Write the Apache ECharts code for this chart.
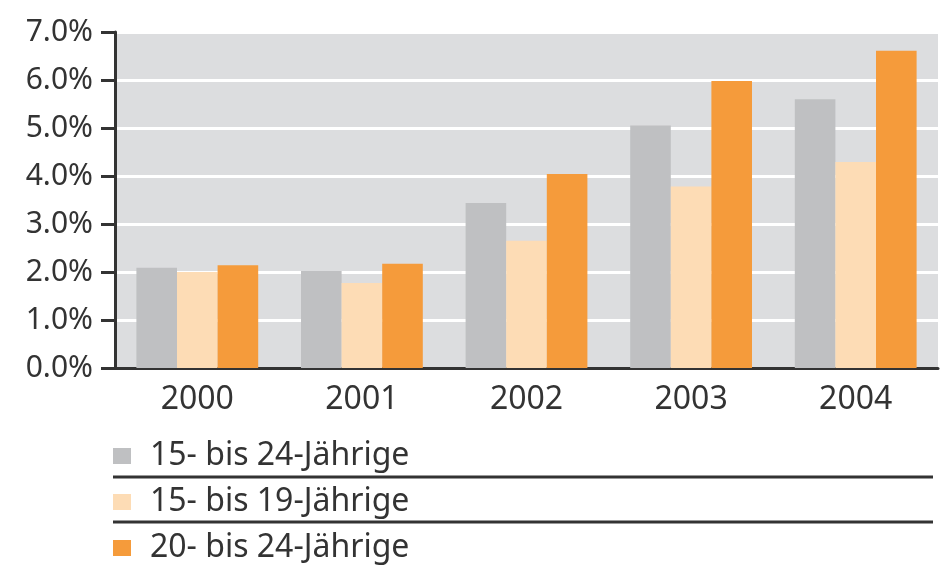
<!DOCTYPE html>
<html>
<head>
<meta charset="utf-8">
<script src="https://cdn.jsdelivr.net/npm/echarts@6/dist/echarts.min.js"></script>
<style>
  html, body { margin: 0; padding: 0; background: #fff; }
  #chart { width: 943px; height: 567px; }
</style>
</head>
<body>
<div id="chart"></div>
<script>
// Jahre und Anteile (in %)
const years = ["2000", "2001", "2002", "2003", "2004"]
const seriesNames = ["15- bis 24-Jährige", "15- bis 19-Jährige", "20- bis 24-Jährige"]
const age15to24 = [2.09, 2.02, 3.44, 5.05, 5.60]
const age15to19 = [2.00, 1.77, 2.65, 3.78, 4.29]
const age20to24 = [2.14, 2.17, 4.04, 5.98, 6.61]
const colors = ["#bfc0c2", "#fddcb5", "#f59b3b"]

const chart = echarts.init(document.getElementById("chart"))
const font = "'Noto Sans', sans-serif"
const dark = "#333"

const values = [age15to24, age15to19, age20to24]

chart.setOption({
  animation: false,
  grid: {
    left: 115, right: 5, top: 32, bottom: 199,
    show: true, backgroundColor: "#dcdddf", borderWidth: 0
  },
  legend: {
    orient: "vertical",
    left: 113, top: 438,
    padding: 0,
    icon: "rect",
    itemWidth: 18, itemHeight: 16,
    itemGap: 10,
    textStyle: { fontFamily: font, fontSize: 32, color: dark, lineHeight: 36, padding: [0, 0, 0, 14] },
    data: seriesNames,
    selectedMode: false
  },
  xAxis: {
    type: "category",
    data: years,
    axisLine: { lineStyle: { color: dark, width: 3 } },
    axisTick: { length: 10, lineStyle: { color: dark, width: 3 } },
    axisLabel: { fontFamily: font, fontSize: 32, color: dark, margin: 16 }
  },
  yAxis: {
    type: "value",
    min: 0, max: 7, interval: 1,
    axisLine: { show: true, lineStyle: { color: dark, width: 3 } },
    axisTick: { show: true, length: 14, lineStyle: { color: dark, width: 3 } },
    axisLabel: {
      fontFamily: font, fontSize: 30, color: dark, margin: 22,
      formatter: v => v.toFixed(1) + "%"
    },
    splitLine: { lineStyle: { color: "#fff", width: 3 } }
  },
  // Trennlinien zwischen den Legendeneinträgen
  graphic: [
    { type: "line", shape: { x1: 113, y1: 477, x2: 933, y2: 477 }, style: { stroke: dark, lineWidth: 3 } },
    { type: "line", shape: { x1: 113, y1: 522, x2: 933, y2: 522 }, style: { stroke: dark, lineWidth: 3 } }
  ],
  series: seriesNames.map((name, i) => ({
    name,
    type: "bar",
    data: values[i],
    barGap: "0%",
    barCategoryGap: "26%",
    itemStyle: { color: colors[i] }
  }))
})
</script>
</body>
</html>
